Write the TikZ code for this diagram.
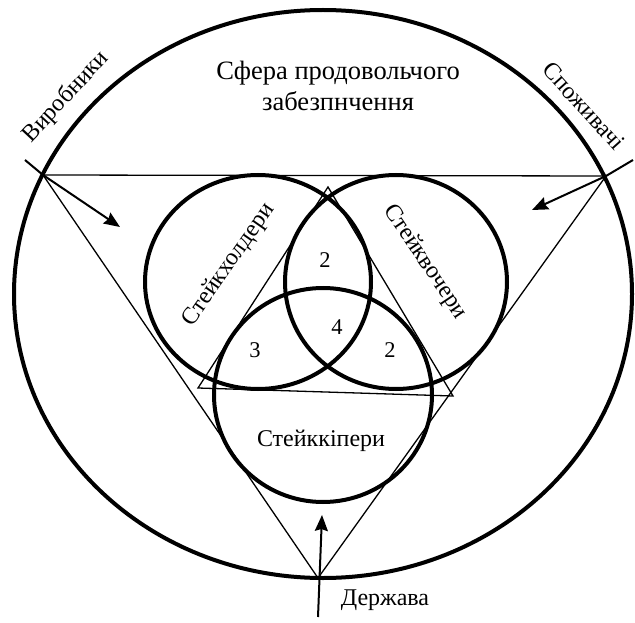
\documentclass[tikz,border=0pt]{standalone}
\usepackage{fontspec}
\setmainfont{Liberation Serif}
\usepackage{tikz}
\usetikzlibrary{arrows.meta,shapes.geometric}
\tikzset{
  sphere/.style={ellipse,draw=black,line width=4pt,inner sep=0pt},
  holder/.style={ellipse,draw=black,line width=4pt,inner sep=0pt},
  thinline/.style={draw=black,line width=1.3pt},
  flowarrow/.style={-{Stealth[length=16pt,width=13pt,inset=2pt]},line width=2pt},
  ticktail/.style={line width=2pt},
  biglabel/.style={font=\fontsize{26.5}{31}\selectfont,align=center,inner sep=0pt},
  grouplabel/.style={font=\fontsize{24}{28}\selectfont,inner sep=0pt},
  zonelabel/.style={font=\fontsize{22.5}{25}\selectfont,inner sep=0pt}
}
\begin{document}
\begin{tikzpicture}[x=1pt,y=-1pt]
\useasboundingbox (0,0) rectangle (635,623);
% outer sphere
\node[sphere,minimum width=618pt,minimum height=568pt] (sphere) at (323,294) {};
\node[biglabel] (title) at (338,86) {Сфера продовольчого\\забезпнчення};
% vertices of the big triangle
\coordinate (vL) at (43,175);
\coordinate (vR) at (606,176);
\coordinate (vB) at (318,578);
\draw[thinline] (vL) -- (vR) -- (vB) -- cycle;
% inner triangle
\coordinate (iT) at (328,187);
\coordinate (iL) at (198,388);
\coordinate (iR) at (453,396);
\draw[thinline] (iT) -- (iR) -- (iL) -- cycle;
% three groups
\node[holder,minimum width=226pt,minimum height=214pt] (hold) at (258,282) {};
\node[holder,minimum width=222pt,minimum height=214pt] (watch) at (396,282) {};
\node[holder,minimum width=218pt,minimum height=214pt] (keep) at (323,395) {};
\node[grouplabel,rotate=55] (holdtxt) at (229,265) {Стейкхолдери};
\node[grouplabel,rotate=-56] (watchtxt) at (425,262) {Стейквочери};
\node[grouplabel] (keeptxt) at (321,441) {Стейккіпери};
\node[zonelabel] (z2a) at (325,260) {2};
\node[zonelabel] (z4) at (337,327) {4};
\node[zonelabel] (z3) at (255,350) {3};
\node[zonelabel] (z2b) at (390,350) {2};
% actors and arrows
\node[grouplabel,rotate=47] (prod) at (66,97) {Виробники};
\node[grouplabel,rotate=-48] (cons) at (584,106) {Споживачі};
\node[grouplabel] (state) at (385,600) {Держава};
\coordinate (tL) at (25,160);
\coordinate (aL) at (120,227);
\coordinate (tR) at (633,160);
\coordinate (aR) at (532,210);
\coordinate (tB) at (318,617);
\coordinate (aB) at (322,515);
\draw[ticktail] (tL) -- (vL);
\draw[flowarrow] (vL) -- (aL);
\draw[ticktail] (tR) -- (vR);
\draw[flowarrow] (vR) -- (aR);
\draw[flowarrow] (tB) -- (aB);
\end{tikzpicture}
\end{document}
